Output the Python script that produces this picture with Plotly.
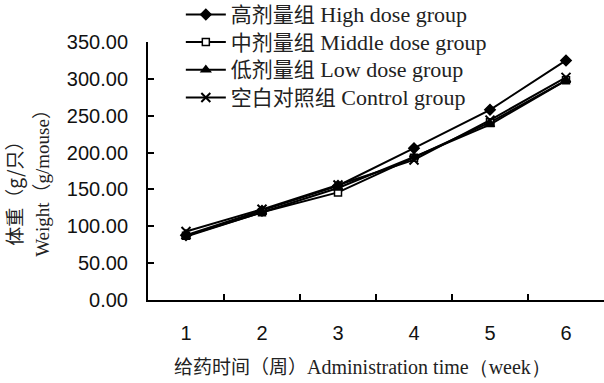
import plotly.graph_objects as go

weeks = ["1", "2", "3", "4", "5", "6"]
high_dose = [88, 121, 155, 206, 258, 325]
middle_dose = [87, 119, 146, 193, 241, 298]
low_dose = [86, 119, 152, 194, 238, 298]
control = [93, 123, 156, 190, 244, 302]

cn_names = ["高剂量组", "中剂量组", "低剂量组", "空白对照组"]
en_names = ["High dose group", "Middle dose group", "Low dose group", "Control group"]

symbols = ["diamond", "square", "triangle-up", "x-thin-open"]
fills = ["black", "white", "black", "black"]
sizes = [8, 7, 8, 9]
values = [high_dose, middle_dose, low_dose, control]

CN_FONT = "Noto Sans CJK SC"
EN_FONT = "Liberation Serif"


def mixed(cn, en, cn_size, en_size, sep=" "):
    return (f'<span style="font-family:{CN_FONT};font-size:{cn_size}px">{cn}</span>'
            f'<span style="font-family:{EN_FONT};font-size:{en_size}px">{sep}{en}</span>')


fig = go.Figure()
for cn, en, vals, sym, fill, size in zip(cn_names, en_names, values, symbols, fills, sizes):
    fig.add_trace(go.Scatter(
        x=weeks, y=vals, name=mixed(cn, en, 21, 22), mode="lines+markers",
        line=dict(color="black", width=2),
        marker=dict(symbol=sym, size=size, color=fill,
                    line=dict(color="black", width=1.5 if sym != "x-thin-open" else 2)),
    ))

fig.update_layout(
    width=604, height=383,
    margin=dict(l=148, r=0, t=42, b=83, autoexpand=False),
    plot_bgcolor="white", paper_bgcolor="white",
    showlegend=True,
    legend=dict(
        x=0.072, y=1.18, xanchor="left", yanchor="top",
        bgcolor="rgba(0,0,0,0)",
        font=dict(family=f"{EN_FONT}, {CN_FONT}", size=19, color="#222"),
        itemwidth=40, tracegroupgap=0,
    ),
    xaxis=dict(
        type="category", range=[-0.5, 5.5], tickson="boundaries",
        ticks="inside", ticklen=6, tickcolor="black", tickwidth=2,
        showline=True, linecolor="black", linewidth=2,
        showgrid=False, zeroline=False,
        tickfont=dict(family="Liberation Sans", size=20, color="#111"),
        ticklabelstandoff=14,
    ),
    yaxis=dict(
        range=[0, 350], tickvals=[0, 50, 100, 150, 200, 250, 300, 350],
        tickformat=".2f",
        ticks="inside", ticklen=6, tickcolor="black", tickwidth=2,
        showline=True, linecolor="black", linewidth=2,
        showgrid=False, zeroline=False,
        tickfont=dict(family="Liberation Sans", size=20, color="#111"),
        ticklabelstandoff=14,
    ),
    annotations=[
        dict(text=mixed("给药时间（周）", "Administration time（week）", 19, 20, sep=""),
             xref="paper", yref="paper",
             x=0.47, y=-0.255, xanchor="center", yanchor="middle", showarrow=False,
             font=dict(color="#222", size=20)),
        dict(text="体重（g/只）",
             xref="paper", yref="paper",
             x=-0.297, y=0.43, xanchor="center", yanchor="middle", textangle=-90, showarrow=False,
             font=dict(family=CN_FONT, size=19, color="#222")),
        dict(text="Weight（g/mouse）",
             xref="paper", yref="paper",
             x=-0.23, y=0.47, xanchor="center", yanchor="middle", textangle=-90, showarrow=False,
             font=dict(family=f"{EN_FONT}, {CN_FONT}", size=19, color="#222")),
    ],
)

fig.write_html("out.html")
